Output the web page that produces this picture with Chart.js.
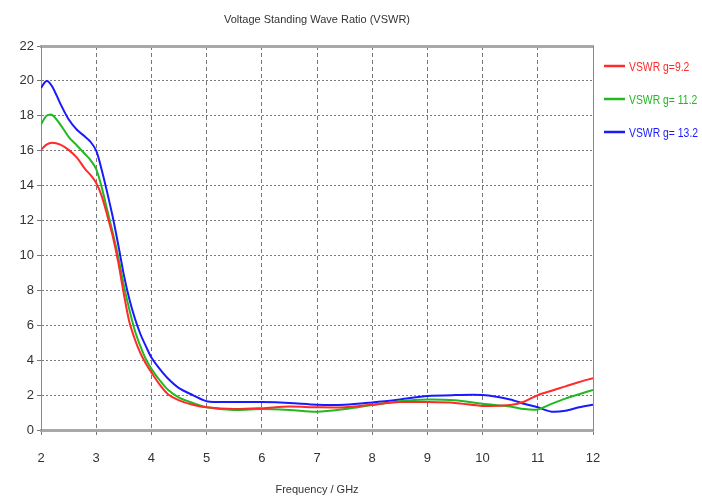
<!DOCTYPE html>
<html>
<head>
<meta charset="utf-8">
<script src="https://cdn.jsdelivr.net/npm/chart.js@4/dist/chart.umd.min.js"></script>
<style>
  html, body { margin: 0; padding: 0; background: #fff; }
  #wrap { width: 702px; height: 504px; }
</style>
</head>
<body>
<div id="wrap"><canvas id="vswr"></canvas></div>
<script>
// frequency grid (GHz) shared by all three curves
const freq = [2, 2.1, 2.2, 2.35, 2.5, 2.65, 2.8, 2.9, 3, 3.1, 3.2, 3.3, 3.4, 3.5, 3.6, 3.7, 3.8, 3.9,
    4, 4.15, 4.3, 4.5, 4.75, 5, 5.5, 6, 6.5, 7, 7.5, 8, 8.5, 9, 9.5, 10, 10.5, 10.75, 11, 11.25, 11.5, 11.75, 12];

const vswr92 = [16.05, 16.35, 16.45, 16.35, 16.05, 15.6, 14.95, 14.6, 14.15, 13.4, 12.3, 11.1, 9.6, 7.8,
    6.2, 5.2, 4.4, 3.8, 3.3, 2.6, 2.05, 1.7, 1.45, 1.3, 1.2, 1.25, 1.35, 1.3, 1.3, 1.45, 1.6, 1.6, 1.55,
    1.38, 1.43, 1.62, 2.0, 2.25, 2.5, 2.75, 2.97];
const vswr112 = [17.5, 18.0, 18.05, 17.5, 16.8, 16.3, 15.8, 15.45, 14.95, 13.9, 12.6, 11.3, 9.9, 8.3,
    6.9, 5.7, 4.8, 4.05, 3.5, 2.85, 2.3, 1.85, 1.55, 1.3, 1.15, 1.2, 1.15, 1.05, 1.2, 1.43, 1.65, 1.75, 1.7,
    1.5, 1.35, 1.2, 1.18, 1.5, 1.8, 2.05, 2.3];
const vswr132 = [19.6, 20.0, 19.7, 18.7, 17.8, 17.2, 16.8, 16.5, 16.0, 14.9, 13.6, 12.2, 10.6, 8.9,
    7.5, 6.4, 5.5, 4.8, 4.15, 3.5, 2.95, 2.4, 2.0, 1.65, 1.6, 1.6, 1.55, 1.45, 1.45, 1.58, 1.75, 1.95, 2.0,
    2.0, 1.75, 1.5, 1.3, 1.05, 1.1, 1.3, 1.45];

const seriesLabels = ['VSWR g=9.2', 'VSWR g= 11.2', 'VSWR g= 13.2'];
const seriesColors = ['#ff2a2a', '#22b822', '#1a1aff'];
const yTicks = [0, 2, 4, 6, 8, 10, 12, 14, 16, 18, 20, 22];

const FONT = "'Liberation Sans', Arial, sans-serif";

function pts(ys) {
    return freq.map(function (f, i) { return { x: f, y: ys[i] }; });
}

// legend drawn to the right of the plot, labels in series colour (squeezed a bit)
const sideLegend = {
    id: 'sideLegend',
    afterDraw: function (chart) {
        const ctx = chart.ctx;
        const area = chart.chartArea;
        ctx.save();
        ctx.font = '13px ' + FONT;
        ctx.textBaseline = 'middle';
        chart.data.datasets.forEach(function (ds, i) {
            const y = area.top + 20 + i * 33;
            ctx.strokeStyle = ds.borderColor;
            ctx.lineWidth = 2.5;
            ctx.beginPath();
            ctx.moveTo(area.right + 11, y);
            ctx.lineTo(area.right + 32, y);
            ctx.stroke();
            ctx.fillStyle = ds.borderColor;
            const w = ctx.measureText(ds.label).width * 0.8;
            ctx.fillText(ds.label, area.right + 36, y + 1, w);
        });
        ctx.restore();
    }
};

const edge = function (v, lo, hi) { return v === lo || v === hi; };

new Chart(document.getElementById('vswr'), {
    type: 'line',
    data: {
        datasets: [vswr92, vswr112, vswr132].map(function (ys, i) {
            return {
                label: seriesLabels[i],
                data: pts(ys),
                borderColor: seriesColors[i],
                backgroundColor: seriesColors[i],
                borderWidth: 2,
                pointRadius: 0,
                tension: 0.3,
                fill: false,
            };
        }),
    },
    options: {
        responsive: true,
        maintainAspectRatio: false,
        animation: false,
        layout: { padding: { left: 0, right: 109, top: 0, bottom: 0 } },
        plugins: {
            legend: { display: false },
            tooltip: { enabled: false },
        },
        scales: {
            x: {
                type: 'linear',
                position: 'bottom',
                min: 2,
                max: 12,
                ticks: { stepSize: 1, color: '#333', padding: 16, font: { family: FONT, size: 13 } },
                grid: {
                    color: function (c) { return edge(c.tick.value, 2, 12) ? 'rgba(0,0,0,0)' : '#777'; },
                    tickColor: '#777',
                    tickLength: 5,
                    lineWidth: 1,
                },
                border: { color: '#a8a8a8', width: 3, dash: [4, 3] },
                title: {
                    display: true,
                    text: 'Frequency / GHz',
                    color: '#333',
                    font: { family: FONT, size: 11 },
                    padding: { top: 0, bottom: 7 },
                },
                afterFit: function (s) { s.height = 74; },
            },
            // top frame line; its title doubles as the chart title, centred over the plot
            xTop: {
                type: 'linear',
                position: 'top',
                min: 2,
                max: 12,
                ticks: { display: false },
                grid: { display: false },
                border: { color: '#a8a8a8', width: 3 },
                title: {
                    display: true,
                    text: 'Voltage Standing Wave Ratio (VSWR)',
                    color: '#333',
                    font: { family: FONT, size: 11 },
                    padding: { top: 13, bottom: 0 },
                },
                afterFit: function (s) { s.height = 46; },
            },
            y: {
                min: 0,
                max: 22,
                afterBuildTicks: function (s) {
                    s.ticks = yTicks.map(function (v) { return { value: v }; });
                },
                ticks: { color: '#333', padding: 3, font: { family: FONT, size: 13 } },
                grid: {
                    color: function (c) { return edge(c.tick.value, 0, 22) ? 'rgba(0,0,0,0)' : '#7a7a7a'; },
                    tickColor: '#777',
                    tickLength: 4,
                    lineWidth: 1,
                },
                border: { color: '#8a8a8a', width: 1, dash: [2, 2] },
                afterFit: function (s) { s.width = 41; },
            },
            yRight: {
                position: 'right',
                min: 0,
                max: 22,
                ticks: { display: false },
                grid: { display: false },
                border: { color: '#8a8a8a', width: 1 },
                afterFit: function (s) { s.width = 0; },
            },
        },
    },
    plugins: [sideLegend],
});
</script>
</body>
</html>
